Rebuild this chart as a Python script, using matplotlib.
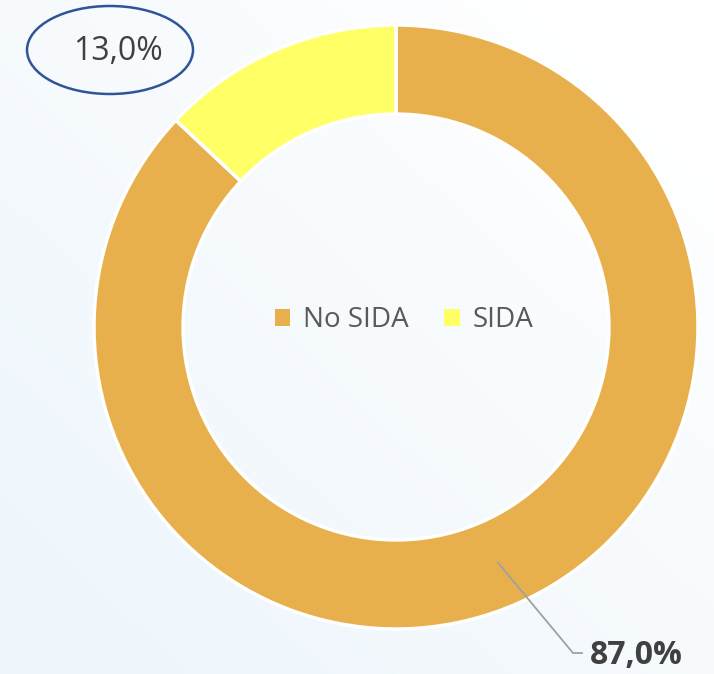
import numpy as np
import matplotlib
matplotlib.use("Agg")
import matplotlib.pyplot as plt
from matplotlib.patches import Ellipse
from matplotlib.colors import LinearSegmentedColormap

categories = ["No SIDA", "SIDA"]
values = [87.0, 13.0]
labels = ["87,0%", "13,0%"]
colors = ["#E8B04C", "#FFFF66"]

plt.rcParams['font.family'] = ['Open Sans', 'DejaVu Sans']

W, H = 714, 674
fig = plt.figure(figsize=(W / 100, H / 100), dpi=100)
ax = fig.add_axes([0, 0, 1, 1])

# subtle background gradient (white top-right -> light blue bottom-left)
yy, xx = np.mgrid[0:1:200j, 0:1:200j]
grad = np.clip((1 - xx) * 0.6 + yy * 0.6 - 0.1, 0, 1)
cmap = LinearSegmentedColormap.from_list("bg", ["#FFFFFF", "#EEF6FC"])
ax.imshow(grad, extent=[0, W, 0, H], origin='upper', cmap=cmap, aspect='auto', zorder=0)

cx, cy, R = 396, 347, 302
wedges, _ = ax.pie(values, colors=colors, startangle=90, counterclock=False,
                   radius=R, center=(cx, cy), frame=True,
                   wedgeprops=dict(width=R * 0.295, edgecolor='white', linewidth=2.5))
ax.set_xlim(0, W)
ax.set_ylim(0, H)
ax.set_aspect('equal')
ax.axis('off')
for w in wedges:
    w.set_zorder(2)

# 87,0% label with leader line
w0 = wedges[0]
mid = np.deg2rad((w0.theta1 + w0.theta2) / 2)
px, py = cx + 0.85 * R * np.cos(mid), cy + 0.85 * R * np.sin(mid)
tx, ty = 590, 18
ex = 573
ax.plot([px, ex, tx - 8], [py, ty + 3, ty + 3], color='#A0A0A0', lw=1.3, zorder=4,
        solid_joinstyle='miter')
ax.text(tx, ty, labels[0], fontsize=23, fontweight='bold',
        color='#404040', ha='left', va='center', zorder=5)

# 13,0% label in ellipse
ax.text(118, 674 - 52, labels[1], fontsize=23, color='#404040', ha='center', va='center', zorder=5)
ax.add_patch(Ellipse((110, 674 - 50), 166, 88, facecolor='none', edgecolor='#2F5597', lw=1.8, zorder=5))

leg = ax.legend(wedges, categories, loc='center', bbox_to_anchor=(404 / W, 1 - 320 / H),
                ncol=2, frameon=False, fontsize=20, handlelength=0.55, handleheight=0.55,
                handletextpad=0.45, columnspacing=1.3, labelcolor='#595959')
for h in leg.legend_handles:
    h.set_edgecolor('none')

fig.savefig("out.png", dpi=100)
